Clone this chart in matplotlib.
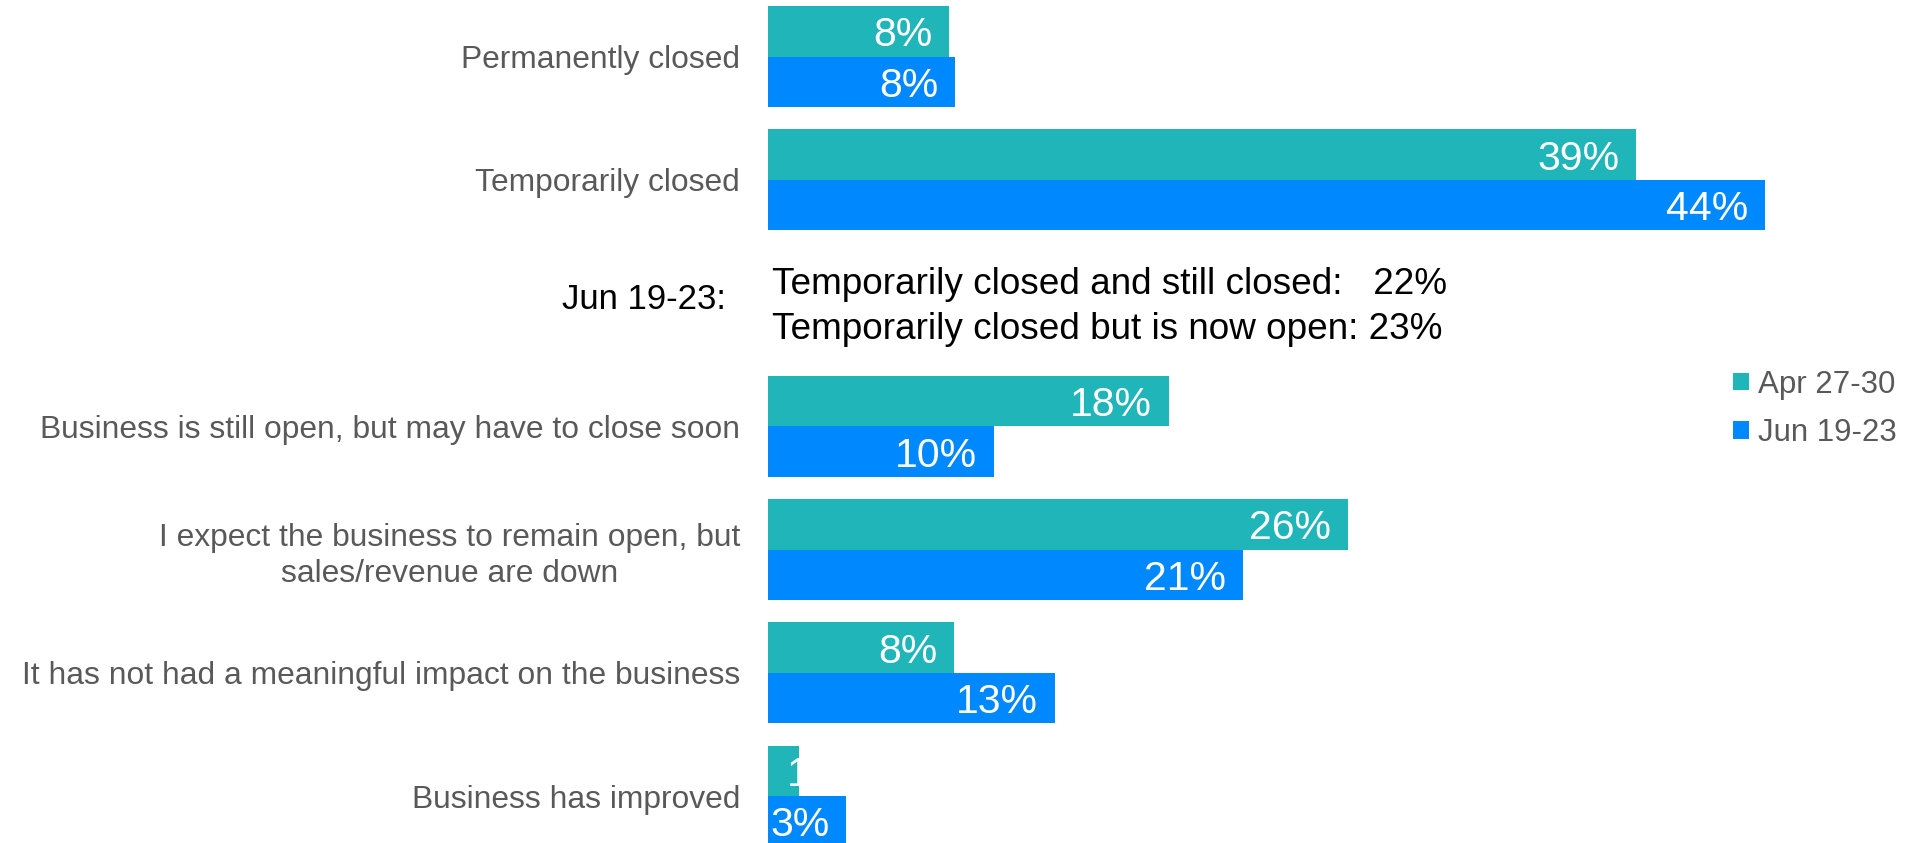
import numpy as np
import matplotlib
matplotlib.use('Agg')
import matplotlib.pyplot as plt

# данные
categories = [
    'Permanently closed',
    'Temporarily closed',
    'Business is still open, but may have to close soon',
    'I expect the business to remain open, but\nsales/revenue are down',
    'It has not had a meaningful impact on the business',
    'Business has improved',
]
apr_values = [8.1, 38.75, 17.9, 25.9, 8.3, 1.4]
jun_values = [8.35, 44.5, 10.1, 21.2, 12.8, 3.5]
apr_labels = ['8%', '39%', '18%', '26%', '8%', '1%']
jun_labels = ['8%', '44%', '10%', '21%', '13%', '3%']
series_names = ['Apr 27-30', 'Jun 19-23']

note_title = 'Jun 19-23:'
note_lines = ['Temporarily closed and still closed:   22%',
              'Temporarily closed but is now open: 23%']

TEAL = '#20B5B8'
BLUE = '#0088FF'
GREY = '#595959'

plt.rcParams['font.family'] = ['Liberation Sans', 'DejaVu Sans']

# пустой слот после второй категории под текстовую вставку
gap_after = 2
pos = np.array([i if i < gap_after else i + 1 for i in range(len(categories))])
gap_pos = gap_after

fig = plt.figure(figsize=(19.06, 8.43), dpi=100)
ax = fig.add_axes([768 / 1906, 0, 1 - 768 / 1906, 1])

h = 0.41
b1 = ax.barh(pos - h / 2, apr_values, height=h, color=TEAL, label=series_names[0])
b2 = ax.barh(pos + h / 2, jun_values, height=h, color=BLUE, label=series_names[1])

ax.set_xlim(0, 1138 / 22.4)
ax.set_ylim(6.38, -0.46)

# подписи внутри конца столбика
for bars, labels in ((b1, apr_labels), (b2, jun_labels)):
    for rect, lab in zip(bars, labels):
        w = rect.get_width()
        yc = rect.get_y() + rect.get_height() / 2
        if w < 2.5:
            ax.text(0.85, yc, lab, ha='left', va='center_baseline',
                    color='white', fontsize=29.5)
        else:
            ax.text(w - 0.75, yc, lab, ha='right', va='center_baseline',
                    color='white', fontsize=29.5)

ax.set_yticks(pos)
ax.set_yticklabels(categories, fontsize=22.85, color=GREY)
for t in ax.get_yticklabels():
    t.set_multialignment('center')
    t.set_linespacing(1.25)
ax.tick_params(axis='y', length=0, pad=20)
ax.set_xticks([])
for s in ax.spines.values():
    s.set_visible(False)

# текстовая вставка в пустом слоте
ax.text(-42 / 22.4, gap_pos - 0.03, note_title, ha='right', va='center',
        fontsize=25, color='black')
ax.text(0.18, gap_pos + 0.03, '\n'.join(note_lines), ha='left', va='center',
        fontsize=26.6, color='black', linespacing=1.36)

leg = fig.legend(handles=[b1, b2], loc='center left',
                 bbox_to_anchor=(1733 / 1906, 1 - 409 / 843),
                 frameon=False, fontsize=22.5, handlelength=0.5,
                 handleheight=0.5, handletextpad=0.3, labelspacing=0.6,
                 borderpad=0, borderaxespad=0)
for t in leg.get_texts():
    t.set_color(GREY)

fig.savefig('out.png', dpi=100)
